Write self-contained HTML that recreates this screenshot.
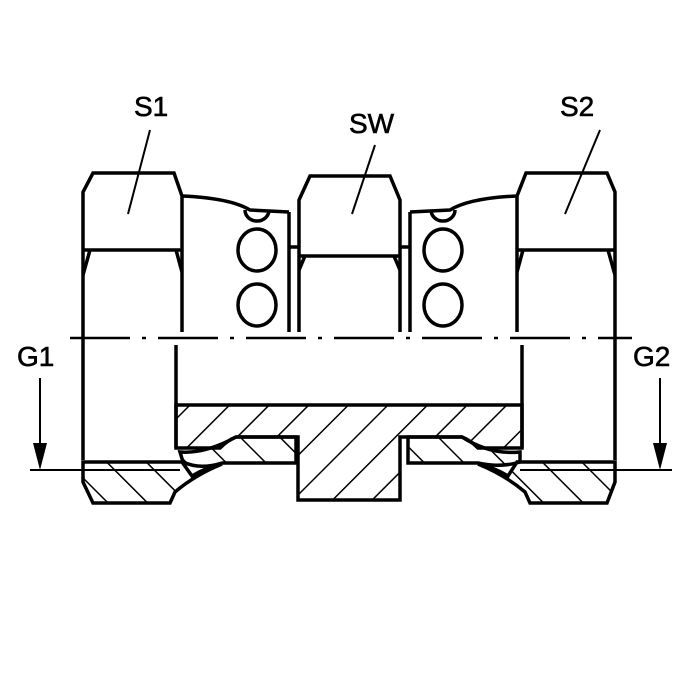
<!DOCTYPE html>
<html><head><style>body{margin:0;background:#fff}svg{display:block}text{font-family:"Liberation Sans",Arial,sans-serif;font-size:28px;stroke:#000;stroke-width:0.6}</style></head>
<body>
<svg width="700" height="700" viewBox="0 0 700 700">
<defs>
<pattern id="hf" patternUnits="userSpaceOnUse" width="28" height="28" patternTransform="rotate(45)"><line x1="0" y1="0" x2="0" y2="28" stroke="#000" stroke-width="3"/></pattern>
<pattern id="hb" patternUnits="userSpaceOnUse" width="28" height="28" patternTransform="rotate(-45)"><line x1="0" y1="0" x2="0" y2="28" stroke="#000" stroke-width="3"/></pattern>
</defs>
<g fill="none" stroke="#000" stroke-width="3.5" stroke-linejoin="miter">
<path d="M176,405 L522,405 L522,448 L478,448 Q470,440 462,437 L400,437 L400,500 L298,500 L298,437 L236,437 Q228,440 220,448 L176,448 Z" fill="url(#hf)"/>
<path d="M180,452 Q205,454 236,437 L296,437 L296,463 L222,463 Q200,470 183,462 Z" fill="url(#hb)"/>
<path d="M408,437 L462,437 Q490,455 520,452 L520,462 Q500,468 478,463 L408,463 Z" fill="url(#hb)"/>
<path d="M83,462 L182,462 L192,476 Q205,468 222,464 Q195,475 175,492 L170,503 L93,503 L83,482 Z" fill="url(#hb)"/>
<path d="M615,462 L517,462 L508,476 Q495,468 478,464 Q505,475 525,492 L530,503 L607,503 L615,482 Z" fill="url(#hb)"/>
<path d="M83,460 L83,192 L93,173 L174,173 L182,196 L182,332"/>
<path d="M83,250 L182,250 M90,250 L83,275 M176,250 L182,272"/>
<path d="M176,345 L176,448"/>
<path d="M615,460 L615,192 L607,173 L526,173 L517,196 L517,332"/>
<path d="M517,250 L615,250 M608,250 L615,275 M523,250 L517,272"/>
<path d="M522,345 L522,448"/>
<path d="M299,332 L299,200 L310,176 L390,176 L400,200 L400,332"/>
<path d="M299,256 L400,256 M305,256 L299,270 M394,256 L400,270"/>
<path d="M289,212 L289,332 M289,247 L299,247"/>
<path d="M410,212 L410,332 M410,247 L400,247"/>
<path d="M182,196 Q230,198 250,210 L289,212"/>
<path d="M517,196 Q470,198 450,210 L410,212"/>
<path d="M245,210 A12,11 0 0 0 269,210"/>
<path d="M431,210 A12,11 0 0 0 455,210"/>
<ellipse cx="257" cy="250" rx="19" ry="21"/>
<ellipse cx="257" cy="305" rx="19" ry="21"/>
<ellipse cx="443" cy="250" rx="19" ry="21"/>
<ellipse cx="443" cy="305" rx="19" ry="21"/>
<path d="M150,130 L128,214 M375,145 L352,214 M600,130 L565,214" stroke-width="2"/>
</g>
<line x1="70" y1="338" x2="632" y2="338" stroke="#000" stroke-width="2.5" stroke-dasharray="60,12,4,12"/>
<g stroke="#000" stroke-width="2">
<line x1="30" y1="470" x2="180" y2="470"/><line x1="40" y1="378" x2="40" y2="452"/>
<line x1="520" y1="470" x2="672" y2="470"/><line x1="660" y1="378" x2="660" y2="452"/>
</g>
<polygon points="33,443 47,443 40,470" fill="#000"/>
<polygon points="653,443 667,443 660,470" fill="#000"/>
<text x="134" y="116">S1</text>
<text x="349" y="133">SW</text>
<text x="560" y="116">S2</text>
<text x="17" y="366">G1</text>
<text x="633" y="366">G2</text>
</svg>
</body></html>
